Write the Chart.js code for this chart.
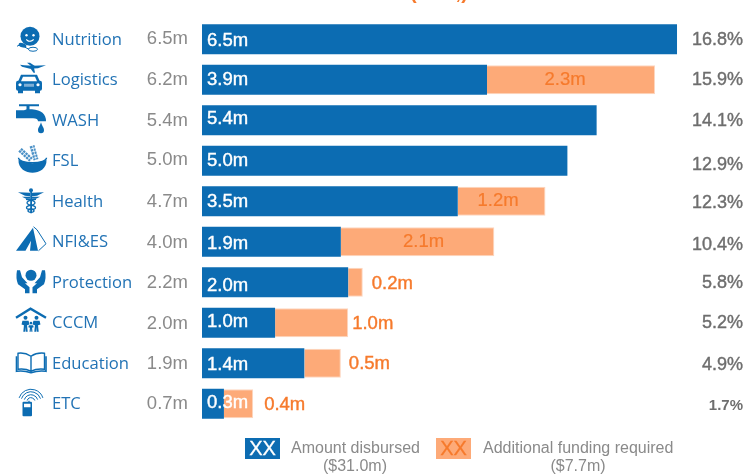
<!DOCTYPE html>
<html>
<head>
<meta charset="utf-8">
<style>
  html, body { margin: 0; padding: 0; background: #fff; }
  canvas { display: block; }
</style>
<script src="https://cdn.jsdelivr.net/npm/chart.js@4"></script>
</head>
<body>
<canvas id="c" width="746" height="474"></canvas>
<script>
// Funding per cluster, in millions of dollars
const clusters   = ['Nutrition', 'Logistics', 'WASH', 'FSL', 'Health', 'NFI&ES', 'Protection', 'CCCM', 'Education', 'ETC'];
const totals     = [6.5, 6.2, 5.4, 5.0, 4.7, 4.0, 2.2, 2.0, 1.9, 0.7];
const disbursed  = [6.5, 3.9, 5.4, 5.0, 3.5, 1.9, 2.0, 1.0, 1.4, 0.3];
const additional = [0, 2.3, 0, 0, 1.2, 2.1, 0.2, 1.0, 0.5, 0.4];
const shares     = ['16.8%', '15.9%', '14.1%', '12.9%', '12.3%', '10.4%', '5.8%', '5.2%', '4.9%', '1.7%'];

const BLUE = '#0c6cb2', ORANGE = '#fdaa78', ORANGE_EDGE = '#fdd6bf', ORANGE_TEXT = '#f67a2c';
const GREY = '#8a8a8a', DARK_GREY = '#6e6e6e', LINK_BLUE = '#2273b5';
const SANS = '"Liberation Sans", Arial, sans-serif';

function text(ctx, str, x, y, font, color, align, weight) {
  ctx.font = font;
  ctx.fillStyle = color;
  ctx.textAlign = align || 'left';
  ctx.textBaseline = 'middle';
  ctx.fillText(str, x, y);
  if (weight) {            // thicken glyphs a little, between regular and bold
    ctx.strokeStyle = color;
    ctx.lineWidth = weight;
    ctx.strokeText(str, x, y);
  }
}

function poly(ctx, pts) {
  ctx.beginPath();
  pts.forEach((p, i) => i ? ctx.lineTo(p[0], p[1]) : ctx.moveTo(p[0], p[1]));
  ctx.closePath();
  ctx.fill();
}
function disc(ctx, x, y, r) { ctx.beginPath(); ctx.arc(x, y, r, 0, Math.PI * 2); ctx.fill(); }
function seg(ctx, x1, y1, x2, y2, w) {
  ctx.lineWidth = w; ctx.beginPath(); ctx.moveTo(x1, y1); ctx.lineTo(x2, y2); ctx.stroke();
}

// Cluster pictograms, each drawn around its row's vertical centre
const icons = {
  Nutrition(c) {
    disc(c, 30, -3, 9.5);
    c.fillStyle = '#fff'; disc(c, 26.5, -4, 1.2); disc(c, 33.5, -4, 1.2);
    c.strokeStyle = '#fff'; c.lineWidth = 1.2;
    c.beginPath(); c.arc(30, -2.5, 4.5, 0.2 * Math.PI, 0.8 * Math.PI); c.stroke();
    c.fillStyle = BLUE; c.strokeStyle = BLUE;
    c.beginPath(); c.ellipse(22.5, 6, 4, 2.2, 0.3, 0, Math.PI * 2); c.fill();
    seg(c, 17, 7, 21, 5, 1);
    c.lineWidth = 1; c.beginPath(); c.ellipse(33, 10, 4.5, 2, 0, 0, Math.PI * 2); c.stroke();
    seg(c, 25, 8, 29, 10, 1);
  },
  Logistics(c) {
    poly(c, [[20, -15], [24, -14.5], [33, -14], [46, -14.5], [38, -11.5], [30, -11], [22, -13]]);
    poly(c, [[27, -17], [30, -17], [36, -13], [32, -13]]);
    poly(c, [[30, -12], [34, -12], [35, -7], [33.5, -7]]);
    c.beginPath(); c.roundRect(16, 1, 26, 10, 2); c.fill();
    poly(c, [[21, -5], [37, -5], [40, 2], [18, 2]]);
    c.fillRect(18, 10, 5, 3.5); c.fillRect(35, 10, 5, 3.5);
    c.fillStyle = '#fff';
    poly(c, [[23, -3], [35, -3], [37, 1.5], [21, 1.5]]);
    disc(c, 20, 5, 1.6); disc(c, 38, 5, 1.6);
    c.fillStyle = '#7fb0d6'; c.fillRect(24, 4, 10, 3);
  },
  WASH(c) {
    seg(c, 19, -15, 39, -15, 2);
    c.fillRect(26.5, -15, 3, 6);
    c.beginPath();
    c.moveTo(16, -10); c.lineTo(24, -10); c.lineTo(27, -11); c.lineTo(32, -11);
    c.quadraticCurveTo(46, -10, 46, 1); c.lineTo(38, 1);
    c.quadraticCurveTo(38, -2, 33, -2); c.lineTo(16, -2);
    c.closePath(); c.fill();
    c.beginPath();
    c.moveTo(41, 2); c.bezierCurveTo(42, 6, 44, 7, 44, 10);
    c.arc(41, 10, 3, 0, Math.PI); c.bezierCurveTo(38, 7, 40, 6, 41, 2);
    c.fill();
  },
  FSL(c) {
    c.strokeStyle = '#4a90c6';
    c.setLineDash([2.4, 0.8]);
    seg(c, 20, -11, 31, -1, 5);
    seg(c, 32, -15, 36, -1, 5);
    c.setLineDash([]);
    c.strokeStyle = '#fff';
    seg(c, 19, -12, 31, -1, 0.7);
    seg(c, 32, -17, 36, -1, 0.7);
    c.strokeStyle = BLUE;
    c.lineWidth = 1.4;
    c.beginPath(); c.ellipse(32.5, -3, 14, 5, 0, 0, Math.PI); c.stroke();
    c.beginPath();
    c.moveTo(18.5, -1);
    c.quadraticCurveTo(32.5, 6, 46.5, -1);
    c.bezierCurveTo(47, 8, 39, 12, 32.5, 12);
    c.bezierCurveTo(26, 12, 18, 8, 18.5, -1);
    c.fill();
  },
  Health(c) {
    c.fillRect(30.2, -12, 1.8, 24);
    disc(c, 31, -11, 2);
    poly(c, [[18, -9], [30, -8.5], [30, -5], [25, -5.5]]);
    poly(c, [[44, -9], [32, -8.5], [32, -5], [37, -5.5]]);
    poly(c, [[22, -4.5], [30, -4.5], [30, -2.5], [26, -2.5]]);
    poly(c, [[40, -4.5], [32, -4.5], [32, -2.5], [36, -2.5]]);
    c.lineWidth = 1.3;
    c.beginPath();
    c.moveTo(36, -2); c.bezierCurveTo(25, -1, 25, 3, 31, 4); c.bezierCurveTo(37, 5, 37, 8, 31, 8);
    c.bezierCurveTo(27, 8, 27, 11, 31, 11);
    c.stroke();
    c.beginPath();
    c.moveTo(26, -2); c.bezierCurveTo(37, -1, 37, 3, 31, 4); c.bezierCurveTo(25, 5, 25, 8, 31, 8);
    c.bezierCurveTo(35, 8, 35, 11, 31, 11);
    c.stroke();
  },
  'NFI&ES'(c) {
    poly(c, [[33, -14], [16, 9], [25.5, 9], [31, -1], [30, 9], [38, 9]]);
    c.lineWidth = 1;
    c.beginPath(); c.moveTo(33.5, -15); c.lineTo(37, -12); c.lineTo(46, 2); c.lineTo(38.5, 9); c.stroke();
  },
  Protection(c) {
    disc(c, 31, -7, 5.5);
    const hand = s => {
      const x = v => 31 + s * v;
      c.beginPath();
      c.moveTo(x(14), -12); c.lineTo(x(11), -12); c.lineTo(x(9), -5); c.lineTo(x(3.5), 1);
      c.lineTo(x(6), 1); c.lineTo(x(1.5), 5); c.lineTo(x(1.5), 11); c.lineTo(x(6), 11);
      c.lineTo(x(6), 7); c.lineTo(x(13), 2);
      c.quadraticCurveTo(x(15.5), -4, x(14), -12);
      c.closePath(); c.fill();
    };
    hand(1); hand(-1);
  },
  CCCM(c) {
    c.lineWidth = 2.4;
    c.beginPath(); c.moveTo(16, -5); c.lineTo(30.5, -14); c.lineTo(46, -5); c.stroke();
    const person = (x, top, h, w) => {
      disc(c, x, top + w * 0.45, w * 0.45);
      poly(c, [[x - w * 0.7, top + w + 0.5], [x + w * 0.7, top + w + 0.5], [x + w * 0.9, top + h * 0.55], [x + w * 0.35, top + h * 0.6], [x + w * 0.5, top + h], [x + 0.3, top + h], [x, top + h * 0.7], [x - 0.3, top + h], [x - w * 0.5, top + h], [x - w * 0.35, top + h * 0.6], [x - w * 0.9, top + h * 0.55]]);
    };
    person(25.5, -7, 16, 4.4);
    person(36.5, -7, 16, 4.4);
    person(31, -1, 10, 3);
  },
  Education(c) {
    c.lineWidth = 1.4;
    c.beginPath();
    c.moveTo(31, -7); c.quadraticCurveTo(25, -11, 18, -10); c.lineTo(18, 6);
    c.quadraticCurveTo(25, 5, 31, 8); c.quadraticCurveTo(37, 5, 44.5, 6); c.lineTo(44.5, -10);
    c.quadraticCurveTo(37, -11, 31, -7); c.lineTo(31, 8);
    c.stroke();
    c.lineWidth = 1.6;
    c.beginPath();
    c.moveTo(16.5, -7); c.lineTo(16.5, 8); c.quadraticCurveTo(24, 7, 31, 9.5);
    c.quadraticCurveTo(38, 7, 46, 8); c.lineTo(46, -7);
    c.stroke();
  },
  ETC(c) {
    c.lineWidth = 1;
    [4, 7, 10, 12.5].forEach(r => {
      c.beginPath(); c.arc(31, -2, r, 1.1 * Math.PI, 1.9 * Math.PI); c.stroke();
    });
    seg(c, 29, -3, 29, 0, 1.2);
    c.beginPath(); c.roundRect(22.5, -2, 9.5, 14.5, 1); c.fill();
    c.fillStyle = '#fff'; c.fillRect(24, 0, 6.5, 3.5);
  }
};

// Small nudges for the text columns, one per row
const valueNudge = [0, 0, 1, -1, 1, 1, 1, 1, 1, 0];
const shareNudge = [1, 0, 1, 4, 2, 3, 1, 0, 2, 2];
const whiteNudge = [2, 0, -1, 0, 1, 2, 4, -1, 2, -1];
const insideShift = [0, -6, 0, 0, -3.5, 6, 0, 0, 0, 0];
const outsideGap  = [0, 0, 0, 0, 0, 0, 9, 4, 8, 11];
const outsideDrop = [0, 0, 0, 0, 0, 0, 2, 1, 1, 1];

const annotate = {
  id: 'annotate',
  afterDatasetsDraw(chart) {
    const { ctx, scales: { y } } = chart;
    const blue = chart.getDatasetMeta(0).data;
    const peach = chart.getDatasetMeta(1).data;
    const big = `18.5px ${SANS}`;

    ctx.save();
    clusters.forEach((name, i) => {
      const cy = y.getPixelForTick(i);

      ctx.save();
      ctx.translate(0, cy);
      ctx.fillStyle = BLUE;
      ctx.strokeStyle = BLUE;
      icons[name](ctx);
      ctx.restore();

      text(ctx, totals[i].toFixed(1) + 'm', 188, cy + valueNudge[i], big, GREY, 'right');
      text(ctx, disbursed[i].toFixed(1) + 'm', blue[i].base + 5, cy + whiteNudge[i], big, '#fff', 'left', 0.4);

      const need = additional[i];
      if (need >= 1.1) {
        text(ctx, need.toFixed(1) + 'm', (peach[i].x + peach[i].base) / 2 + insideShift[i], cy, big, ORANGE_TEXT, 'center', 0.2);
      } else if (need > 0) {
        text(ctx, need.toFixed(1) + 'm', peach[i].x + outsideGap[i], cy + outsideDrop[i], big, ORANGE_TEXT, 'left', 0.4);
      }

      if (i === clusters.length - 1) {
        text(ctx, shares[i], 743, cy + shareNudge[i], `bold 15px ${SANS}`, DARK_GREY, 'right');
      } else {
        text(ctx, shares[i], 743, cy + shareNudge[i], `18px ${SANS}`, DARK_GREY, 'right', 0.4);
      }
    });

    // Heading, cut off by the top edge of the canvas
    ctx.textBaseline = 'alphabetic';
    ctx.textAlign = 'left';
    ctx.font = `bold 20px ${SANS}`;
    ctx.fillStyle = ORANGE_TEXT;
    ctx.fillText('(38.7,)', 410, -1);

    // Key beneath the bars
    const legendFont = `16px ${SANS}`;
    ctx.fillStyle = BLUE;
    ctx.fillRect(245, 438, 35, 21);
    ctx.fillStyle = ORANGE;
    ctx.fillRect(436, 438, 35, 21);
    text(ctx, 'XX', 262.5, 449.5, `20px ${SANS}`, '#fff', 'center', 0.3);
    text(ctx, 'XX', 453.5, 449.5, `20px ${SANS}`, ORANGE_TEXT, 'center', 0.3);
    text(ctx, 'Amount disbursed', 291, 449, legendFont, GREY);
    text(ctx, '($31.0m)', 355, 467, legendFont, GREY, 'center');
    text(ctx, 'Additional funding required', 483, 449, legendFont, GREY);
    text(ctx, '($7.7m)', 578, 467, legendFont, GREY, 'center');
    ctx.restore();
  }
};

new Chart(document.getElementById('c'), {
  type: 'bar',
  data: {
    labels: clusters,
    datasets: [
      { label: 'Amount disbursed', data: disbursed, backgroundColor: BLUE, barThickness: 30, inflateAmount: 0 },
      { label: 'Additional funding required', data: additional, backgroundColor: ORANGE, borderColor: ORANGE_EDGE,
        borderWidth: 1, barThickness: 29, inflateAmount: 0 }
    ]
  },
  options: {
    indexAxis: 'y',
    responsive: false,
    animation: false,
    devicePixelRatio: 1,
    layout: { padding: { top: 19, bottom: 50, left: 52, right: 0 } },
    plugins: { legend: { display: false }, tooltip: { enabled: false }, title: { display: false } },
    scales: {
      x: { display: false, stacked: true, min: 0, max: 7.444 },
      y: {
        stacked: true,
        grid: { display: false },
        border: { display: false },
        afterFit(scale) { scale.width = 150; },
        ticks: {
          crossAlign: 'far',
          color: LINK_BLUE,
          labelOffset: 1,
          font: { family: '"Open Sans", sans-serif', size: 16.6 }
        }
      }
    }
  },
  plugins: [annotate]
});
</script>
</body>
</html>
